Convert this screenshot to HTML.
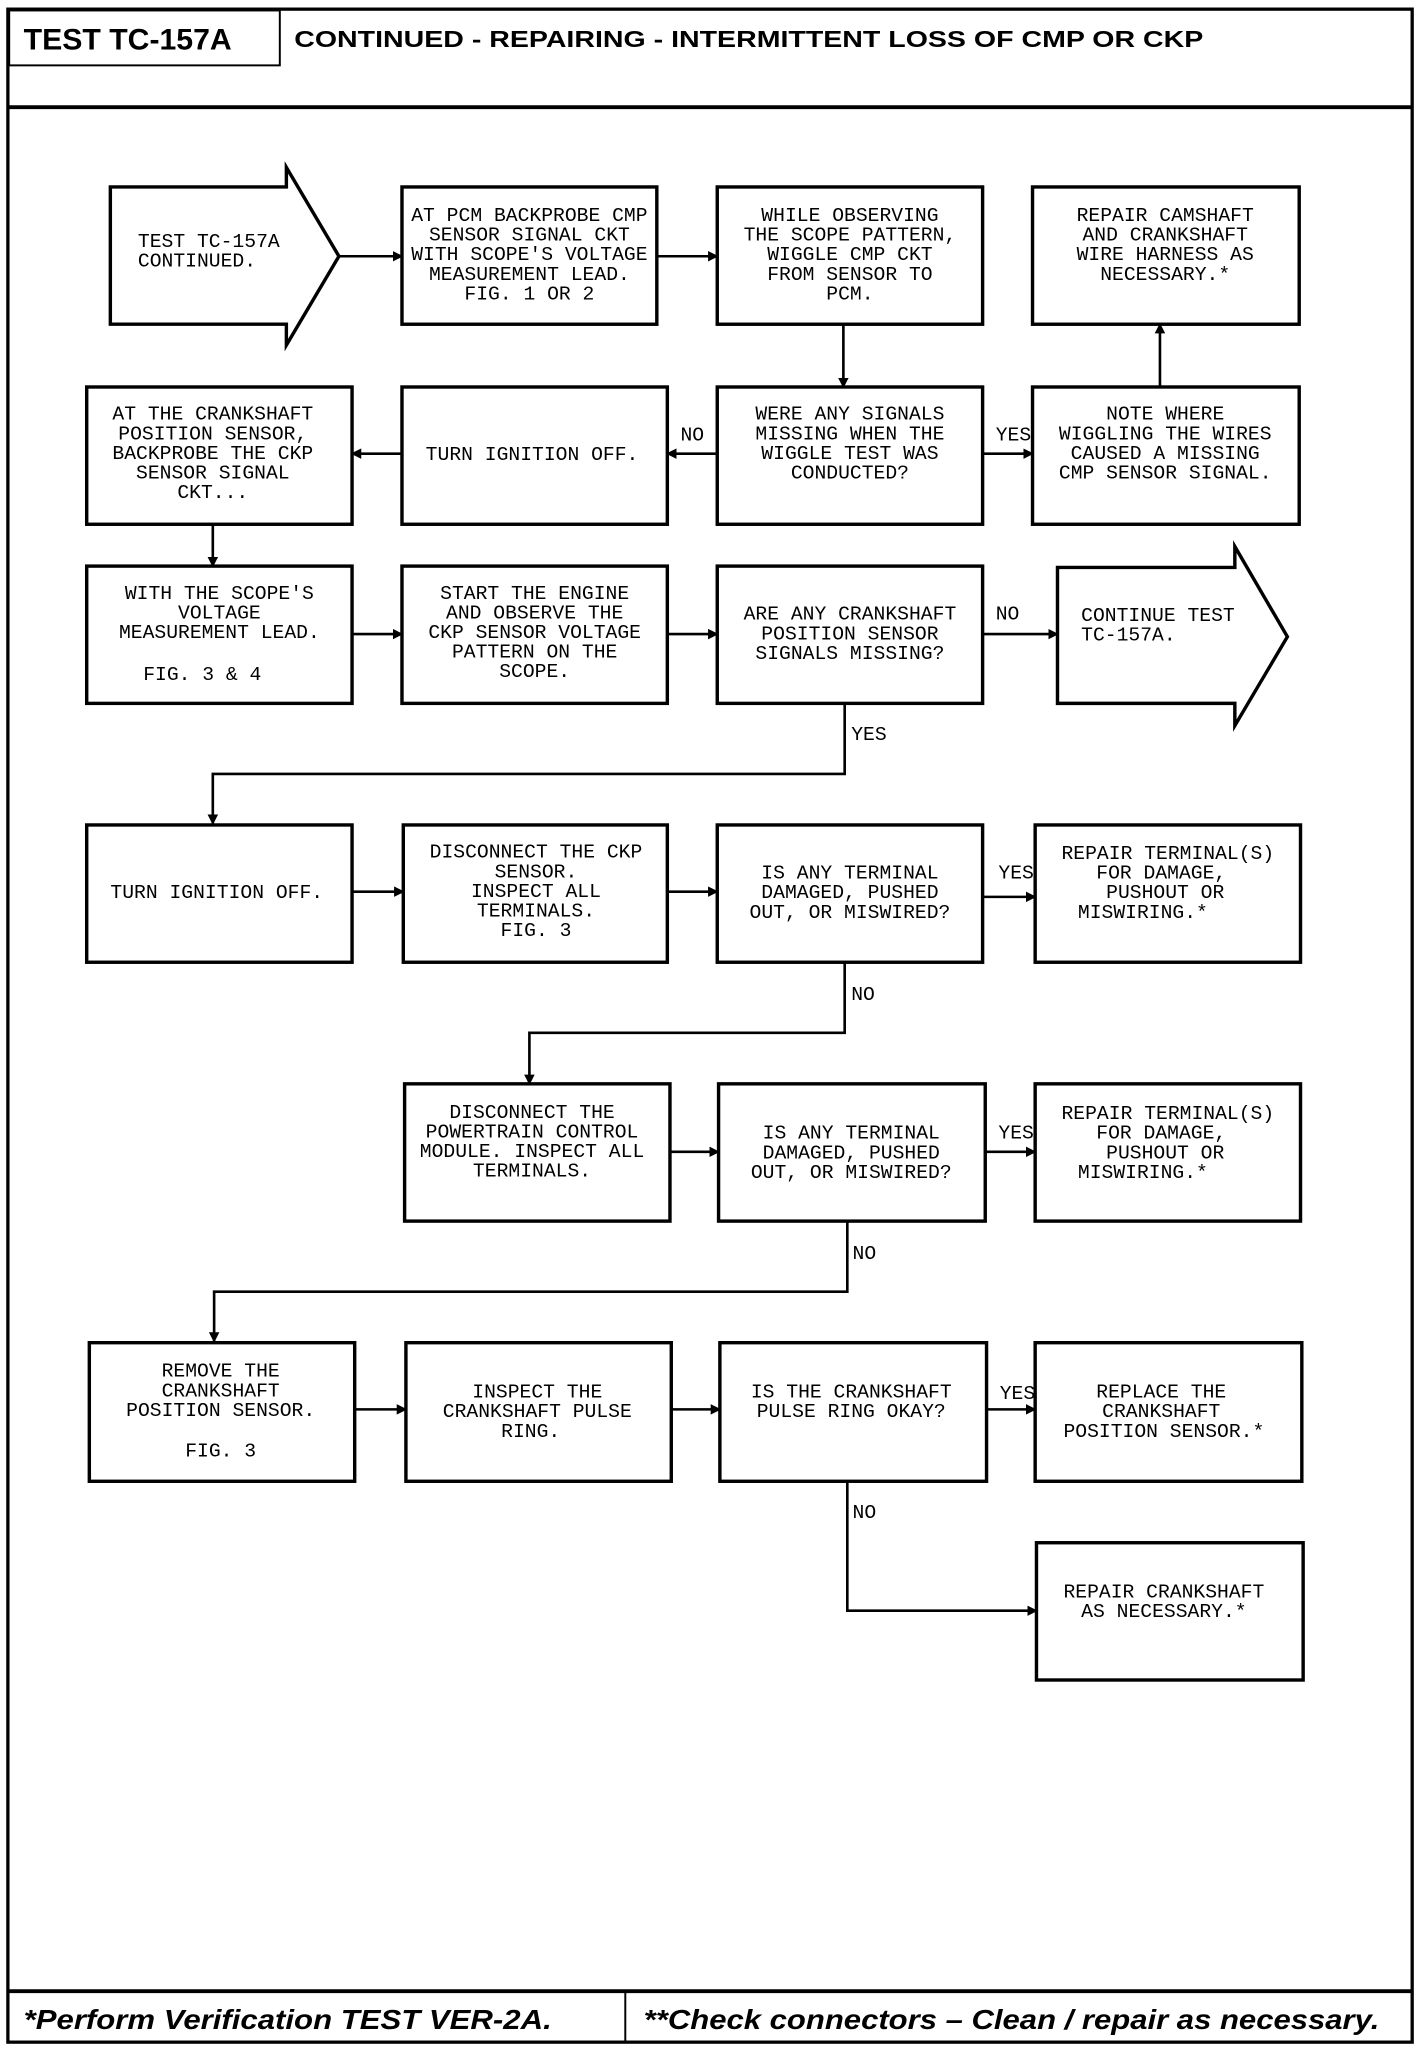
<!DOCTYPE html>
<html><head><meta charset="utf-8"><style>
html,body{margin:0;padding:0;background:#fff;}
svg{display:block;}
.t{font-family:"Liberation Mono",monospace;font-size:15px;fill:#000;text-anchor:middle;}
.l{font-family:"Liberation Mono",monospace;font-size:15px;fill:#000;}
.b{fill:#fff;stroke:#000;stroke-width:2.6;}
.c{stroke:#000;stroke-width:2;fill:none;}
</style></head><body>
<svg width="1424" height="2050" viewBox="0 0 1084 1568" preserveAspectRatio="none" xmlns="http://www.w3.org/2000/svg">
<defs><marker id="a" markerWidth="8" markerHeight="8" refX="7" refY="4" orient="auto" markerUnits="userSpaceOnUse"><path d="M0,0 L8,4 L0,8 z" fill="#000"/></marker></defs>
<!-- frame -->
<rect x="6" y="7" width="1069" height="1555" fill="none" stroke="#000" stroke-width="2.5"/>
<rect x="7" y="8" width="206" height="42" fill="none" stroke="#000" stroke-width="1.5"/>
<line x1="6" y1="82" x2="1075" y2="82" stroke="#000" stroke-width="3"/>
<text x="18" y="38" style="font-family:'Liberation Sans',sans-serif;font-weight:bold;font-size:23px" transform="scale(1,1)">TEST TC-157A</text>
<text x="224" y="36" style="font-family:'Liberation Sans',sans-serif;font-weight:bold;font-size:18px" textLength="692" lengthAdjust="spacingAndGlyphs">CONTINUED -  REPAIRING - INTERMITTENT LOSS OF CMP OR CKP</text>
<line x1="6" y1="1523" x2="1075" y2="1523" stroke="#000" stroke-width="3"/>
<line x1="476" y1="1523" x2="476" y2="1562" stroke="#000" stroke-width="1.5"/>
<text x="18" y="1552" style="font-family:'Liberation Sans',sans-serif;font-weight:bold;font-style:italic;font-size:21px" textLength="402" lengthAdjust="spacingAndGlyphs">*Perform Verification TEST VER-2A.</text>
<text x="490" y="1552" style="font-family:'Liberation Sans',sans-serif;font-weight:bold;font-style:italic;font-size:21px" textLength="560" lengthAdjust="spacingAndGlyphs">**Check connectors – Clean / repair as necessary.</text>

<!-- row 1 -->
<path class="b" d="M84,143 L218,143 L218,128 L258,196 L218,264 L218,248 L84,248 Z"/>
<text class="l" x="105" y="189">TEST TC-157A</text><text class="l" x="105" y="204">CONTINUED.</text>
<rect class="b" x="306" y="143" width="194" height="105"/>
<text class="t" x="403" y="169">AT PCM BACKPROBE CMP</text><text class="t" x="403" y="184">SENSOR SIGNAL CKT</text><text class="t" x="403" y="199">WITH SCOPE'S VOLTAGE</text><text class="t" x="403" y="214">MEASUREMENT LEAD.</text><text class="t" x="403" y="229">FIG. 1 OR 2</text>
<rect class="b" x="546" y="143" width="202" height="105"/>
<text class="t" x="647" y="169">WHILE OBSERVING</text><text class="t" x="647" y="184">THE SCOPE PATTERN,</text><text class="t" x="647" y="199">WIGGLE CMP CKT</text><text class="t" x="647" y="214">FROM SENSOR TO</text><text class="t" x="647" y="229">PCM.</text>
<rect class="b" x="786" y="143" width="203" height="105"/>
<text class="t" x="887" y="169">REPAIR CAMSHAFT</text><text class="t" x="887" y="184">AND CRANKSHAFT</text><text class="t" x="887" y="199">WIRE HARNESS AS</text><text class="t" x="887" y="214">NECESSARY.*</text>
<line class="c" x1="258" y1="196" x2="306" y2="196" marker-end="url(#a)" stroke-width="3"/>
<line class="c" x1="500" y1="196" x2="546" y2="196" marker-end="url(#a)" stroke-width="3"/>
<line class="c" x1="642" y1="248" x2="642" y2="296" marker-end="url(#a)"/>
<line class="c" x1="883" y1="296" x2="883" y2="248" marker-end="url(#a)"/>

<!-- row 2 -->
<rect class="b" x="66" y="296" width="202" height="105"/>
<text class="t" x="162" y="321">AT THE CRANKSHAFT</text><text class="t" x="162" y="336">POSITION SENSOR,</text><text class="t" x="162" y="351">BACKPROBE THE CKP</text><text class="t" x="162" y="366">SENSOR SIGNAL</text><text class="t" x="162" y="381">CKT...</text>
<rect class="b" x="306" y="296" width="202" height="105"/>
<text class="t" x="405" y="352">TURN IGNITION OFF.</text>
<rect class="b" x="546" y="296" width="202" height="105"/>
<text class="t" x="647" y="321">WERE ANY SIGNALS</text><text class="t" x="647" y="336">MISSING WHEN THE</text><text class="t" x="647" y="351">WIGGLE TEST WAS</text><text class="t" x="647" y="366">CONDUCTED?</text>
<rect class="b" x="786" y="296" width="203" height="105"/>
<text class="t" x="887" y="321">NOTE WHERE</text><text class="t" x="887" y="336">WIGGLING THE WIRES</text><text class="t" x="887" y="351">CAUSED A MISSING</text><text class="t" x="887" y="366">CMP SENSOR SIGNAL.</text>
<line class="c" x1="546" y1="347" x2="508" y2="347" marker-end="url(#a)" stroke-width="3"/>
<line class="c" x1="306" y1="347" x2="268" y2="347" marker-end="url(#a)" stroke-width="3"/>
<line class="c" x1="748" y1="347" x2="786" y2="347" marker-end="url(#a)"/>
<text class="l" x="518" y="337">NO</text><text class="l" x="758" y="337">YES</text>
<line class="c" x1="162" y1="401" x2="162" y2="433" marker-end="url(#a)"/>

<!-- row 3 -->
<rect class="b" x="66" y="433" width="202" height="105"/>
<text class="t" x="167" y="458">WITH THE SCOPE'S</text><text class="t" x="167" y="473">VOLTAGE</text><text class="t" x="167" y="488">MEASUREMENT LEAD.</text><text class="t" x="154" y="520">FIG. 3 &amp; 4</text>
<rect class="b" x="306" y="433" width="202" height="105"/>
<text class="t" x="407" y="458">START THE ENGINE</text><text class="t" x="407" y="473">AND OBSERVE THE</text><text class="t" x="407" y="488">CKP SENSOR VOLTAGE</text><text class="t" x="407" y="503">PATTERN ON THE</text><text class="t" x="407" y="518">SCOPE.</text>
<rect class="b" x="546" y="433" width="202" height="105"/>
<text class="t" x="647" y="474">ARE ANY CRANKSHAFT</text><text class="t" x="647" y="489">POSITION SENSOR</text><text class="t" x="647" y="504">SIGNALS MISSING?</text>
<path class="b" d="M805,434 L940,434 L940,418 L980,487 L940,555 L940,538 L805,538 Z"/>
<text class="l" x="823" y="475">CONTINUE TEST</text><text class="l" x="823" y="490">TC-157A.</text>
<line class="c" x1="268" y1="485" x2="306" y2="485" marker-end="url(#a)" stroke-width="3"/>
<line class="c" x1="508" y1="485" x2="546" y2="485" marker-end="url(#a)" stroke-width="3"/>
<line class="c" x1="748" y1="485" x2="805" y2="485" marker-end="url(#a)" stroke-width="3"/>
<text class="l" x="758" y="474">NO</text>
<polyline class="c" points="643,538 643,592 162,592 162,630" marker-end="url(#a)" stroke-width="2.5"/>
<text class="l" x="648" y="566">YES</text>

<!-- row 4 -->
<rect class="b" x="66" y="631" width="202" height="105"/>
<text class="t" x="165" y="687">TURN IGNITION OFF.</text>
<rect class="b" x="307" y="631" width="201" height="105"/>
<text class="t" x="408" y="656">DISCONNECT THE CKP</text><text class="t" x="408" y="671">SENSOR.</text><text class="t" x="408" y="686">INSPECT ALL</text><text class="t" x="408" y="701">TERMINALS.</text><text class="t" x="408" y="716">FIG. 3</text>
<rect class="b" x="546" y="631" width="202" height="105"/>
<text class="t" x="647" y="672">IS ANY TERMINAL</text><text class="t" x="647" y="687">DAMAGED, PUSHED</text><text class="t" x="647" y="702">OUT, OR MISWIRED?</text>
<rect class="b" x="788" y="631" width="202" height="105"/>
<text class="t" x="889" y="657">REPAIR TERMINAL(S)</text><text class="t" x="884" y="672">FOR DAMAGE,</text><text class="t" x="887" y="687">PUSHOUT OR</text><text class="t" x="870" y="702">MISWIRING.*</text>
<line class="c" x1="268" y1="682" x2="307" y2="682" marker-end="url(#a)" stroke-width="3"/>
<line class="c" x1="508" y1="682" x2="546" y2="682" marker-end="url(#a)"/>
<line class="c" x1="748" y1="686" x2="788" y2="686" marker-end="url(#a)" stroke-width="3"/>
<text class="l" x="760" y="672">YES</text>
<polyline class="c" points="643,736 643,790 403,790 403,829" marker-end="url(#a)" stroke-width="2.5"/>
<text class="l" x="648" y="765">NO</text>

<!-- row 5 -->
<rect class="b" x="308" y="829" width="202" height="105"/>
<text class="t" x="405" y="855">DISCONNECT THE</text><text class="t" x="405" y="870">POWERTRAIN CONTROL</text><text class="t" x="405" y="885">MODULE. INSPECT ALL</text><text class="t" x="405" y="900">TERMINALS.</text>
<rect class="b" x="547" y="829" width="203" height="105"/>
<text class="t" x="648" y="871">IS ANY TERMINAL</text><text class="t" x="648" y="886">DAMAGED, PUSHED</text><text class="t" x="648" y="901">OUT, OR MISWIRED?</text>
<rect class="b" x="788" y="829" width="202" height="105"/>
<text class="t" x="889" y="856">REPAIR TERMINAL(S)</text><text class="t" x="884" y="871">FOR DAMAGE,</text><text class="t" x="887" y="886">PUSHOUT OR</text><text class="t" x="870" y="901">MISWIRING.*</text>
<line class="c" x1="510" y1="881" x2="547" y2="881" marker-end="url(#a)"/>
<line class="c" x1="750" y1="881" x2="788" y2="881" marker-end="url(#a)" stroke-width="3"/>
<text class="l" x="760" y="871">YES</text>
<polyline class="c" points="645,934 645,988 163,988 163,1026" marker-end="url(#a)" stroke-width="2.5"/>
<text class="l" x="649" y="963">NO</text>

<!-- row 6 -->
<rect class="b" x="68" y="1027" width="202" height="106"/>
<text class="t" x="168" y="1053">REMOVE THE</text><text class="t" x="168" y="1068">CRANKSHAFT</text><text class="t" x="168" y="1083">POSITION SENSOR.</text><text class="t" x="168" y="1114">FIG. 3</text>
<rect class="b" x="309" y="1027" width="202" height="106"/>
<text class="t" x="409" y="1069">INSPECT THE</text><text class="t" x="409" y="1084">CRANKSHAFT PULSE</text><text class="t" x="404" y="1099">RING.</text>
<rect class="b" x="548" y="1027" width="203" height="106"/>
<text class="t" x="648" y="1069">IS THE CRANKSHAFT</text><text class="t" x="648" y="1084">PULSE RING OKAY?</text>
<rect class="b" x="788" y="1027" width="203" height="106"/>
<text class="t" x="884" y="1069">REPLACE THE</text><text class="t" x="884" y="1084">CRANKSHAFT</text><text class="t" x="886" y="1099">POSITION SENSOR.*</text>
<line class="c" x1="270" y1="1078" x2="309" y2="1078" marker-end="url(#a)"/>
<line class="c" x1="511" y1="1078" x2="548" y2="1078" marker-end="url(#a)" stroke-width="3"/>
<line class="c" x1="751" y1="1078" x2="788" y2="1078" marker-end="url(#a)" stroke-width="3"/>
<text class="l" x="761" y="1070">YES</text>
<polyline class="c" points="645,1133 645,1232 789,1232" marker-end="url(#a)" stroke-width="2.5"/>
<text class="l" x="649" y="1161">NO</text>
<rect class="b" x="789" y="1180" width="203" height="105"/>
<text class="t" x="886" y="1222">REPAIR CRANKSHAFT</text><text class="t" x="886" y="1237">AS NECESSARY.*</text>
</svg>
</body></html>
